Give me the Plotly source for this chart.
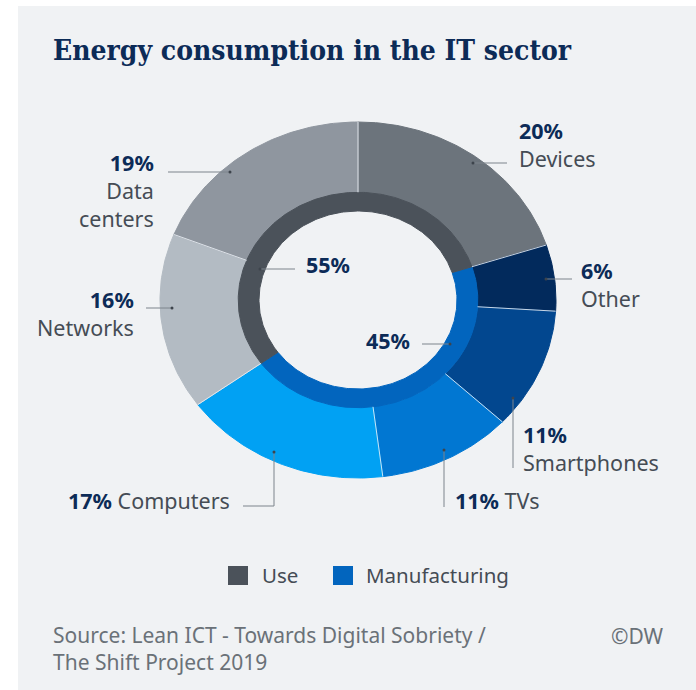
import numpy as np
import plotly.graph_objects as go

# ---- data -------------------------------------------------------------
categories = ["Devices", "Other", "Smartphones", "TVs", "Computers", "Networks", "Data centers"]
shares = [20, 6, 11, 11, 17, 16, 19]
category_group = ["Use", "Manufacturing", "Manufacturing", "Manufacturing",
                  "Manufacturing", "Use", "Use"]
groups = ["Use", "Manufacturing"]
group_shares = [55, 45]

# ---- styling ----------------------------------------------------------
W, H = 696, 690
BG = "#f0f2f4"
NAVY = "#0c2b57"
TEXT = "#454c55"
LEADER = "#7d848c"
FONT = "Noto Sans"
LABEL_SIZE = 21.5

cat_colors = {
    "Devices": "#6c747c", "Other": "#022a5c", "Smartphones": "#02478f",
    "TVs": "#0177d2", "Computers": "#01a1f3", "Networks": "#b3bbc3",
    "Data centers": "#8f969f",
}
group_colors = {"Use": "#4b525a", "Manufacturing": "#0265be"}

# donut geometry in page pixels (drawn slightly wider than tall)
CX, CY = 358, 300
RX, RY = 198, 178
R_OUT, R_MID, R_IN = 1.0, 0.605, 0.50


def ring_point(frac, r):
    a = 2 * np.pi * frac
    return CX + RX * r * np.sin(a), CY - RY * r * np.cos(a)


def wedge(f0, f1, r0, r1):
    n = max(int(abs(f1 - f0) * 360), 4)
    t = np.linspace(f0, f1, n)
    xo, yo = ring_point(t, r1)
    xi, yi = ring_point(t[::-1], r0)
    x = np.concatenate([xo, xi, xo[:1]])
    y = np.concatenate([yo, yi, yo[:1]])
    return x, y


fig = go.Figure()

# outer ring: one wedge per category, clockwise from 12 o'clock
total = sum(shares)
starts = np.concatenate([[0], np.cumsum(shares)[:-1]]) / total
ends = np.cumsum(shares) / total
for name, v, f0, f1 in zip(categories, shares, starts, ends):
    x, y = wedge(f0, f1, R_MID, R_OUT)
    c = cat_colors[name]
    fig.add_trace(go.Scatter(
        x=x, y=y, mode="lines", fill="toself", fillcolor=c,
        line=dict(color=c, width=1), name=name, showlegend=False,
        hoveron="fills", hoverinfo="text", text=f"{name}: {v}%"))

# inner ring: groups, starting where the first manufacturing slice starts
first_manu = category_group.index("Manufacturing")
g_start = starts[first_manu]
g_total = sum(group_shares)
order = [groups.index("Manufacturing"), groups.index("Use")]
cur = g_start
for gi in order:
    g, gv = groups[gi], group_shares[gi]
    f0, f1 = cur, cur + gv / g_total
    cur = f1
    x, y = wedge(f0, f1, R_IN, R_MID)
    c = group_colors[g]
    fig.add_trace(go.Scatter(
        x=x, y=y, mode="lines", fill="toself", fillcolor=c,
        line=dict(color=c, width=1), name=g, showlegend=False,
        hoveron="fills", hoverinfo="text", text=f"{g}: {gv}%"))

# thin light separators between outer wedges
sx, sy = [], []
for f in starts:
    x0, y0 = ring_point(f, R_MID)
    x1, y1 = ring_point(f, R_OUT)
    sx += [x0, x1, None]
    sy += [y0, y1, None]
fig.add_trace(go.Scatter(x=sx, y=sy, mode="lines", hoverinfo="skip",
                         line=dict(color="rgba(235,240,246,0.85)", width=1),
                         showlegend=False))

# ---- labels with leader lines ----------------------------------------
pct = dict(zip(categories, shares))
gpct = dict(zip(groups, group_shares))


def lab(p, name=None, sep="<br>"):
    s = f"<span style='color:{NAVY}'><b>{p}%</b></span>"
    if name:
        s += sep + f"<span style='color:{TEXT}'>{name}</span>"
    return s


labels = [
    # text, x, y, xanchor, align, leader path (first point carries the dot)
    (lab(pct["Devices"], "Devices"), 517, 144, "left", "left", [(473, 163), (507, 163)]),
    (lab(pct["Other"], "Other"), 579, 284, "left", "left", [(546, 279), (572, 279)]),
    (lab(pct["Smartphones"], "Smartphones"), 521, 448, "left", "left", [(513, 398), (513, 468)]),
    (lab(pct["TVs"], "TVs", " "), 453, 500, "left", "left", [(444, 450), (444, 507)]),
    (lab(pct["Computers"], "Computers", " "), 232, 500, "right", "left",
     [(274, 452), (274, 506), (243, 506)]),
    (lab(pct["Networks"], "Networks"), 136, 313, "right", "right", [(172, 308), (146, 308)]),
    (lab(pct["Data centers"], "Data<br>centers"), 156, 190, "right", "right", [(230, 172), (168, 172)]),
    (lab(gpct["Use"]), 304, 264, "left", "left", [(260, 269), (295, 269)]),
    (lab(gpct["Manufacturing"]), 412, 340, "right", "left", [(450, 344), (422, 344)]),
]

lx, ly, dx, dy = [], [], [], []
for text, x, y, xa, al, path in labels:
    fig.add_annotation(x=x, y=y, xref="x", yref="y", text=text, showarrow=False,
                       xanchor=xa, yanchor="middle", align=al,
                       font=dict(family=FONT, size=LABEL_SIZE, color=TEXT))
    for px, py in path:
        lx.append(px)
        ly.append(py)
    lx.append(None)
    ly.append(None)
    dx.append(path[0][0])
    dy.append(path[0][1])

fig.add_trace(go.Scatter(x=lx, y=ly, mode="lines", hoverinfo="skip", showlegend=False,
                         line=dict(color=LEADER, width=1)))
fig.add_trace(go.Scatter(x=dx, y=dy, mode="markers", hoverinfo="skip", showlegend=False,
                         marker=dict(color="#3d444c", size=3)))

# ---- page frame: white strips on the left and top ---------------------
shapes = [
    dict(type="rect", xref="paper", yref="paper", x0=0, x1=18 / W, y0=0, y1=1,
         fillcolor="white", line=dict(width=0), layer="below"),
    dict(type="rect", xref="paper", yref="paper", x0=0, x1=1, y0=1 - 6 / H, y1=1,
         fillcolor="white", line=dict(width=0), layer="below"),
]

# ---- legend (keys drawn as squares) ----------------------------------
legend_items = [("Use", 228, 260), ("Manufacturing", 333, 364)]
for g, kx, tx in legend_items:
    shapes.append(dict(type="rect", xref="x", yref="y", x0=kx, x1=kx + 20, y0=566, y1=585,
                       fillcolor=group_colors[g], line=dict(width=0)))
    fig.add_annotation(x=tx, y=575, xref="x", yref="y", text=g, showarrow=False,
                       xanchor="left", yanchor="middle",
                       font=dict(family=FONT, size=20.5, color=TEXT))

# ---- title and footer -------------------------------------------------
fig.add_annotation(x=51, y=50, xref="x", yref="y", showarrow=False,
                   text="<b>Energy consumption in the IT sector</b>",
                   xanchor="left", yanchor="middle",
                   font=dict(family="DejaVu Serif Condensed, DejaVu Serif", size=28, color=NAVY))
fig.add_annotation(x=51, y=648, xref="x", yref="y", showarrow=False,
                   text="Source: Lean ICT - Towards Digital Sobriety /<br>The Shift Project 2019",
                   xanchor="left", yanchor="middle", align="left",
                   font=dict(family=FONT, size=21, color="#6a7178"))
fig.add_annotation(x=666, y=636, xref="x", yref="y", showarrow=False, text="©DW",
                   xanchor="right", yanchor="middle",
                   font=dict(family=FONT, size=21, color="#6a7178"))

fig.update_layout(
    width=W, height=H, margin=dict(l=0, r=0, t=0, b=0),
    paper_bgcolor=BG, plot_bgcolor="rgba(0,0,0,0)",
    shapes=shapes, showlegend=False,
    xaxis=dict(range=[0, W], visible=False, fixedrange=True, domain=[0, 1]),
    yaxis=dict(range=[H, 0], visible=False, fixedrange=True, domain=[0, 1]),
)

# let the page background continue the panel colour below the figure
fig.write_html("out.html", config={"displayModeBar": False},
               post_script=f"document.documentElement.style.background='{BG}';"
                           f"document.body.style.background='{BG}';"
                           "document.body.style.margin='0';")
